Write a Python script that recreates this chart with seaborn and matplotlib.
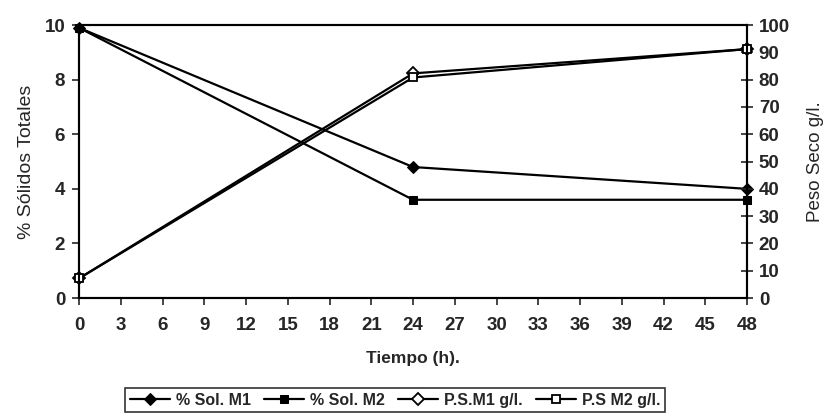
import matplotlib
matplotlib.use("Agg")
import matplotlib.pyplot as plt
import seaborn as sns
import pandas as pd

tiempo = [0, 24, 48]
sol_m1 = [9.9, 4.8, 4.0]
sol_m2 = [9.9, 3.6, 3.6]
ps_m1 = [7.2, 82.3, 91.2]
ps_m2 = [7.2, 80.8, 91.2]
x_ticks = list(range(0, 49, 3))

sns.set_style("ticks")
plt.rcParams['font.family'] = ['Liberation Sans', 'DejaVu Sans']

fig = plt.figure(figsize=(8.25, 4.18), dpi=100)
ax = fig.add_axes([0.0958, 0.287, 0.8097, 0.653])
ax2 = ax.twinx()

lw = 1.6
common = dict(color='black', lw=lw, markersize=6, legend=False, clip_on=False)
sns.lineplot(x=tiempo, y=sol_m1, ax=ax, marker='D', markerfacecolor='black',
             markeredgecolor='black', label='% Sol. M1', **common)
sns.lineplot(x=tiempo, y=sol_m2, ax=ax, marker='s', markerfacecolor='black',
             markeredgecolor='black', label='% Sol. M2', **common)
sns.lineplot(x=tiempo, y=ps_m1, ax=ax2, marker='D', markerfacecolor='white',
             markeredgecolor='black', markeredgewidth=1.3, label='P.S.M1 g/l.', **common)
sns.lineplot(x=tiempo, y=ps_m2, ax=ax2, marker='s', markerfacecolor='white',
             markeredgecolor='black', markeredgewidth=1.3, label='P.S M2 g/l.', **common)

ax.set_xlim(0, 48)
ax.set_ylim(0, 10)
ax2.set_ylim(0, 100)
ax.set_xticks(x_ticks)
ax.set_yticks(range(0, 11, 2))
ax2.set_yticks(range(0, 101, 10))

for a in (ax, ax2):
    for s in a.spines.values():
        s.set_color('black')
        s.set_linewidth(1.5)
ax.tick_params(axis='x', direction='out', length=5, width=1.2, labelsize=13.5, pad=9)
ax.tick_params(axis='y', direction='out', length=5, width=1.2, labelsize=13.5, pad=5)
ax2.tick_params(axis='y', direction='inout', length=9, width=1.2, labelsize=13.5, pad=4)
for lab in ax.get_xticklabels() + ax.get_yticklabels() + ax2.get_yticklabels():
    lab.set_fontweight('bold')

ax.set_xlabel('Tiempo (h).', fontsize=12.5, fontweight='bold', labelpad=12)
ax.set_ylabel('% Sólidos Totales', fontsize=14, labelpad=7)
ax2.set_ylabel('Peso Seco g/l.', fontsize=13.5, rotation=90, labelpad=12)

h1, l1 = ax.get_legend_handles_labels()
h2, l2 = ax2.get_legend_handles_labels()
leg = fig.legend(h1 + h2, l1 + l2, loc='center', bbox_to_anchor=(0.479, 0.043), ncol=4,
                 frameon=True, fancybox=False, edgecolor='black',
                 handlelength=2.5, handletextpad=0.4, columnspacing=0.8, borderpad=0.3,
                 prop={'weight': 'bold', 'size': 11.5})
leg.get_frame().set_linewidth(1.2)

fig.savefig('out.png', dpi=100, facecolor='white')
